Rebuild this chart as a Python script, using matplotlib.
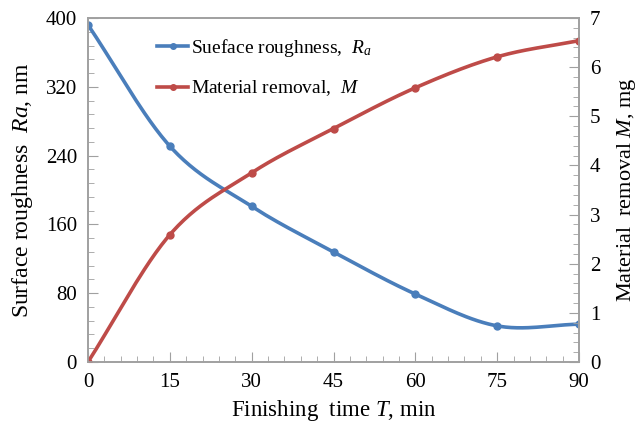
import numpy as np
import matplotlib.pyplot as plt
from matplotlib.ticker import MultipleLocator

plt.rcParams['font.family'] = ['Liberation Serif', 'DejaVu Serif']
plt.rcParams['mathtext.fontset'] = 'custom'
plt.rcParams['mathtext.it'] = 'Liberation Serif:italic'
plt.rcParams['mathtext.rm'] = 'Liberation Serif'

time = [0, 15, 30, 45, 60, 75, 90]
roughness = [392, 251, 181, 128, 79, 42, 44]
removal = [0.0, 2.59, 3.85, 4.75, 5.58, 6.21, 6.54]

BLUE = '#4a7ebb'
RED = '#be4b48'
GRAY = '#a0a0a0'


def smooth(x, y, n=30):
    # Catmull-Rom curve through the points, like a spreadsheet's smoothed line
    x = np.asarray(x, float)
    y = np.asarray(y, float)
    px = np.concatenate([[2 * x[0] - x[1]], x, [2 * x[-1] - x[-2]]])
    py = np.concatenate([[2 * y[0] - y[1]], y, [2 * y[-1] - y[-2]]])
    xs, ys = [], []
    t = np.linspace(0, 1, n)
    for i in range(1, len(px) - 2):
        for p, out in ((px, xs), (py, ys)):
            p0, p1, p2, p3 = p[i - 1], p[i], p[i + 1], p[i + 2]
            out.extend(0.5 * (2 * p1 + (-p0 + p2) * t
                              + (2 * p0 - 5 * p1 + 4 * p2 - p3) * t ** 2
                              + (-p0 + 3 * p1 - 3 * p2 + p3) * t ** 3))
    return xs, ys


fig = plt.figure(figsize=(6.4, 4.26), dpi=100)
ax = fig.add_axes([88 / 640, 1 - 362 / 426, (579 - 88) / 640, (362 - 18) / 426])
ax2 = ax.twinx()

sx, sy = smooth(time, roughness)
ax.plot(sx, sy, color=BLUE, lw=2.6)
ax.plot(time, roughness, 'o', color=BLUE, ms=5)
mx, my = smooth(time, removal)
ax2.plot(mx, my, color=RED, lw=2.6)
ax2.plot(time, removal, 'o', color=RED, ms=5)

ax.set_xlim(0, 90)
ax.set_ylim(0, 400)
ax2.set_ylim(0, 7)
ax.xaxis.set_major_locator(MultipleLocator(15))
ax.xaxis.set_minor_locator(MultipleLocator(3))
ax.yaxis.set_major_locator(MultipleLocator(80))
ax.yaxis.set_minor_locator(MultipleLocator(16))
ax2.yaxis.set_major_locator(MultipleLocator(1))
ax2.yaxis.set_minor_locator(MultipleLocator(0.2))

for a in (ax, ax2):
    for s in a.spines.values():
        s.set_color(GRAY)
        s.set_linewidth(1.2)
    a.tick_params(which='both', direction='in', color=GRAY, labelsize=15)
    a.tick_params(which='major', length=7, pad=8)
    a.tick_params(which='minor', length=4)

ax.set_xlabel('Finishing  time $T$, min', fontsize=16.5, labelpad=4)
ax.set_ylabel('Surface roughness  $Ra$, nm', fontsize=17, labelpad=8)
ax2.set_ylabel('Material  removal $M$, mg', fontsize=16, labelpad=10)

ax.plot([], [], '-o', color=BLUE, lw=2.6, ms=4, label='Sueface roughness,  $R$$_a$')
ax.plot([], [], '-o', color=RED, lw=2.6, ms=4, label='Material removal,  $M$')
ax.legend(loc='upper left', bbox_to_anchor=(0.105, 0.995), frameon=False,
          fontsize=14, handlelength=1.6, handletextpad=0.15, labelspacing=1.0)

fig.savefig('out.png', dpi=100)
